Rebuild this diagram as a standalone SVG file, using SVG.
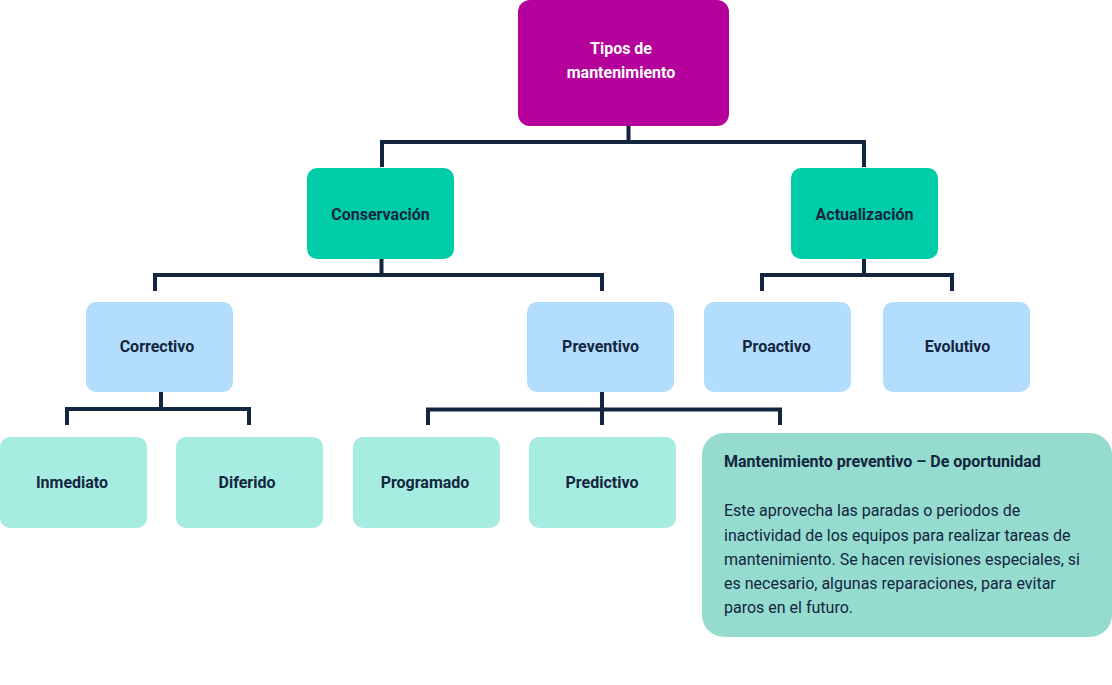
<svg xmlns="http://www.w3.org/2000/svg" width="1112" height="685" viewBox="0 0 1112 685">
<style>
.lbl{font-family:Roboto,"Liberation Sans",sans-serif;font-size:16px;font-weight:bold;fill:#13263f;text-anchor:middle}
.wht{fill:#ffffff}
.conn{fill:none;stroke:#13263f;stroke-width:4;stroke-linecap:butt;stroke-linejoin:miter}
.body{font-family:Roboto,"Liberation Sans",sans-serif;font-size:16px;fill:#13263f}
.ttl{font-family:Roboto,"Liberation Sans",sans-serif;font-size:16px;font-weight:bold;fill:#13263f}
</style>
<rect width="1112" height="685" fill="#ffffff"/>
<g id="connectors">
<path class="conn" d="M628.5,126 V142 M382,167 V142 H864 V167"/>
<path class="conn" d="M381.5,259 V275 M155,291 V275 H602 V291"/>
<path class="conn" d="M864,259 V275 M762,291 V275 H952 V291"/>
<path class="conn" d="M161,392 V409 M67,425 V409 H249 V425"/>
<path class="conn" d="M602,392 V425 M428,425 V409.5 H780 V425"/>
</g>
<g id="n-tipos"><rect x="518" y="0" width="211" height="126" rx="12" fill="#b5009b"/><text class="lbl wht" x="621" y="54">Tipos de</text><text class="lbl wht" x="621" y="78">mantenimiento</text></g>
<g id="n-conservacion"><rect x="307" y="168" width="147" height="91" rx="10" fill="#00cca8"/><text class="lbl" x="380.5" y="220">Conservación</text></g>
<g id="n-actualizacion"><rect x="791" y="168" width="147" height="91" rx="10" fill="#00cca8"/><text class="lbl" x="864.5" y="220">Actualización</text></g>
<g id="n-correctivo"><rect x="86" y="302" width="147" height="90" rx="10" fill="#b3ddfd"/><text class="lbl" x="157" y="351.5">Correctivo</text></g>
<g id="n-preventivo"><rect x="527" y="302" width="147" height="90" rx="10" fill="#b3ddfd"/><text class="lbl" x="600.5" y="351.5">Preventivo</text></g>
<g id="n-proactivo"><rect x="704" y="302" width="147" height="90" rx="10" fill="#b3ddfd"/><text class="lbl" x="776.5" y="351.5">Proactivo</text></g>
<g id="n-evolutivo"><rect x="883" y="302" width="147" height="90" rx="10" fill="#b3ddfd"/><text class="lbl" x="957.5" y="351.5">Evolutivo</text></g>
<g id="n-inmediato"><rect x="0" y="437" width="147" height="91" rx="10" fill="#a7ece0"/><text class="lbl" x="72" y="488">Inmediato</text></g>
<g id="n-diferido"><rect x="176" y="437" width="147" height="91" rx="10" fill="#a7ece0"/><text class="lbl" x="247" y="488">Diferido</text></g>
<g id="n-programado"><rect x="353" y="437" width="147" height="91" rx="10" fill="#a7ece0"/><text class="lbl" x="425" y="488">Programado</text></g>
<g id="n-predictivo"><rect x="529" y="437" width="147" height="91" rx="10" fill="#a7ece0"/><text class="lbl" x="602" y="488">Predictivo</text></g>
<g id="n-oportunidad"><rect x="702" y="433" width="410" height="204" rx="22" fill="#95dbce"/>
<text class="ttl" x="724" y="467">Mantenimiento preventivo – De oportunidad</text>
<text class="body" x="724" y="516">Este aprovecha las paradas o periodos de</text>
<text class="body" x="724" y="540.5">inactividad de los equipos para realizar tareas de</text>
<text class="body" x="724" y="564.5">mantenimiento. Se hacen revisiones especiales, si</text>
<text class="body" x="724" y="589">es necesario, algunas reparaciones, para evitar</text>
<text class="body" x="724" y="613">paros en el futuro.</text>
</g>
</svg>
